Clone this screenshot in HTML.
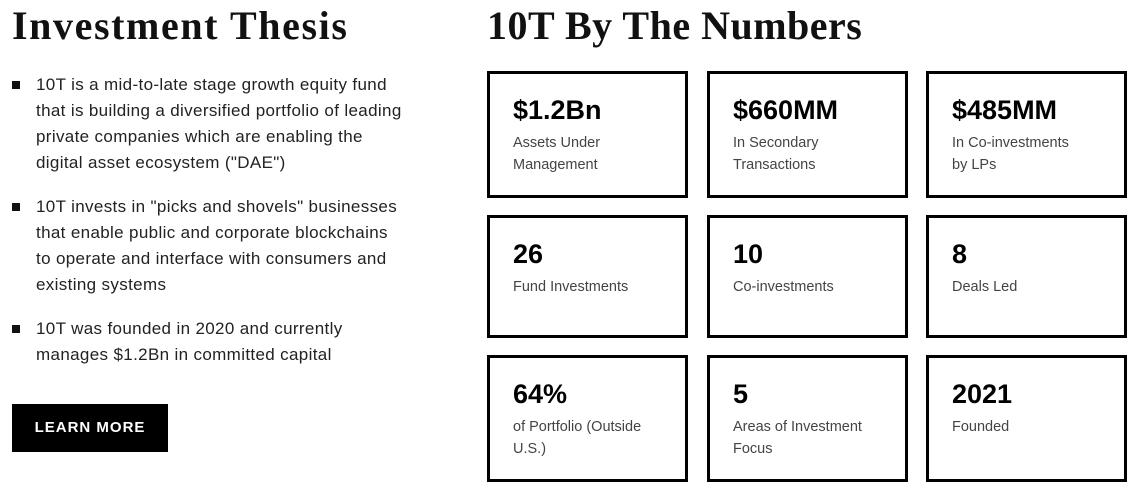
<!DOCTYPE html>
<html><head><meta charset="utf-8"><style>
*{margin:0;padding:0;box-sizing:border-box}
body{width:1140px;height:491px;background:#fff;position:relative;overflow:hidden;font-family:"Liberation Sans",sans-serif;color:#111}
h1{position:absolute;top:2px;font-family:"Liberation Serif",serif;font-weight:bold;font-size:40px;color:#111;white-space:nowrap}
.bul{position:absolute;left:36px;font-size:17px;letter-spacing:0.35px;line-height:26px;color:#222;white-space:nowrap}
.bul::before{content:"";position:absolute;left:-24px;top:9px;width:8px;height:8px;background:#111}
.btn{position:absolute;left:12px;top:404px;width:156px;height:48px;background:#000;color:#fff;font-weight:bold;font-size:15px;letter-spacing:1px;text-align:center;line-height:48px}
.box{position:absolute;width:201px;border:3px solid #000;padding:18px 0 0 23px}
.num{font-weight:bold;font-size:27px;line-height:36px;color:#000}
.lab{font-size:14.5px;line-height:22px;color:#444;margin-top:4px}
</style></head><body>
<h1 style="left:12px;letter-spacing:1.6px">Investment Thesis</h1>
<h1 style="left:487px;letter-spacing:0.5px">10T By The Numbers</h1>
<div class="bul" style="top:72px">10T is a mid-to-late stage growth equity fund<br>that is building a diversified portfolio of leading<br>private companies which are enabling the<br>digital asset ecosystem ("DAE")</div>
<div class="bul" style="top:194px">10T invests in "picks and shovels" businesses<br>that enable public and corporate blockchains<br>to operate and interface with consumers and<br>existing systems</div>
<div class="bul" style="top:316px">10T was founded in 2020 and currently<br>manages $1.2Bn in committed capital</div>
<div class="btn">LEARN MORE</div>
<div class="box" style="left:487px;top:71px;height:127px"><div class="num">$1.2Bn</div><div class="lab">Assets Under<br>Management</div></div>
<div class="box" style="left:707px;top:71px;height:127px"><div class="num">$660MM</div><div class="lab">In Secondary<br>Transactions</div></div>
<div class="box" style="left:926px;top:71px;height:127px"><div class="num">$485MM</div><div class="lab">In Co-investments<br>by LPs</div></div>
<div class="box" style="left:487px;top:215px;height:123px"><div class="num">26</div><div class="lab">Fund Investments</div></div>
<div class="box" style="left:707px;top:215px;height:123px"><div class="num">10</div><div class="lab">Co-investments</div></div>
<div class="box" style="left:926px;top:215px;height:123px"><div class="num">8</div><div class="lab">Deals Led</div></div>
<div class="box" style="left:487px;top:355px;height:127px"><div class="num">64%</div><div class="lab">of Portfolio (Outside<br>U.S.)</div></div>
<div class="box" style="left:707px;top:355px;height:127px"><div class="num">5</div><div class="lab">Areas of Investment<br>Focus</div></div>
<div class="box" style="left:926px;top:355px;height:127px"><div class="num">2021</div><div class="lab">Founded</div></div>
</body></html>
